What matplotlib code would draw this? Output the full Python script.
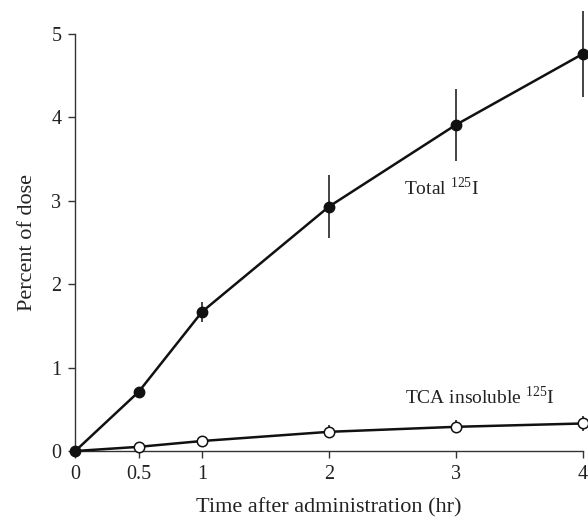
import matplotlib
matplotlib.use("Agg")
import matplotlib.pyplot as plt

plt.rcParams['font.family'] = ['Liberation Serif', 'DejaVu Serif']
plt.rcParams['mathtext.fontset'] = 'custom'
plt.rcParams['mathtext.rm'] = 'Liberation Serif'

time = [0, 0.5, 1, 2, 3, 4]
total = [0, 0.71, 1.67, 2.93, 3.91, 4.76]
total_err = [0, 0, 0.12, 0.38, 0.43, 0.52]
tca = [0, 0.05, 0.12, 0.23, 0.29, 0.33]
tca_err = [0, 0, 0, 0.08, 0.08, 0.09]
xticks = [0, 0.5, 1, 2, 3, 4]
yticks = [0, 1, 2, 3, 4, 5]

fig = plt.figure(figsize=(5.88, 5.22), dpi=100)
ax = fig.add_axes([0.128, 0.136, 0.863, 0.799])

ax.errorbar(time, total, yerr=total_err, color='#111111', lw=1.8, elinewidth=1.1,
            capsize=0, marker='o', ms=7.5, mfc='#111111', mec='#111111', clip_on=False, zorder=3)
ax.errorbar(time[1:], tca[1:], yerr=tca_err[1:], fmt='none', ecolor='#111111',
            elinewidth=1.1, capsize=0, clip_on=False, zorder=2)
ax.plot(time, tca, color='#111111', lw=1.8, marker='o', ms=7.5, mfc='white',
        mec='#111111', mew=1.1, clip_on=False, zorder=3, markevery=[1, 2, 3, 4, 5])

ax.set_xlim(0, 4)
ax.set_ylim(0, 5)
ax.set_xticks(xticks)
ax.set_xticklabels(['0', '0.5', '1', '2', '3', '4'])
ax.set_yticks(yticks)
for s in ['top', 'right']:
    ax.spines[s].set_visible(False)
for s in ['left', 'bottom']:
    ax.spines[s].set_linewidth(1.0)
    ax.spines[s].set_color('#333333')
ax.tick_params(direction='out', length=5, width=1, labelsize=14.5, colors='#333333',
               labelcolor='#222222', pad=5)

ax.set_xlabel('Time after administration (hr)', fontsize=16, color='#222222', labelpad=10)
ax.set_ylabel('Percent of dose', fontsize=16, color='#222222', labelpad=10)

ax.text(2.59, 3.07, r'Total $^{\mathrm{125}}$I', fontsize=14, color='#222222')
ax.text(2.6, 0.56, r'TCA insoluble $^{\mathrm{125}}$I', fontsize=14, color='#222222')

fig.savefig('out.png', dpi=100)
